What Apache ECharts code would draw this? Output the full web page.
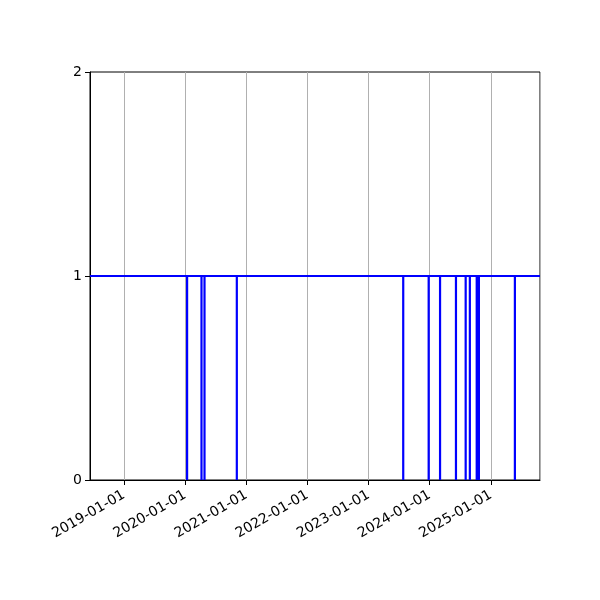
<!DOCTYPE html>
<html>
<head>
<meta charset="utf-8">
<script src="https://cdn.jsdelivr.net/npm/echarts@6/dist/echarts.min.js"></script>
<style>html,body{margin:0;padding:0;background:#fff;}#c{width:600px;height:600px;}</style>
</head>
<body>
<div id="c"></div>
<script>
const rangeStart = '2018-06-12';
const rangeEnd = '2025-10-21';
const normalValue = 1;
const dropValue = 0;
const dropDates = [
  '2020-01-13', '2020-04-08', '2020-04-26', '2020-11-05',
  '2023-07-27', '2023-12-26', '2024-03-03', '2024-06-06',
  '2024-08-03', '2024-08-28', '2024-10-08', '2024-10-21',
  '2025-05-24'
];
const yTicks = [0, 1, 2];

const series = [[rangeStart, normalValue]];
dropDates.forEach(d => {
  series.push([d, normalValue]);
  series.push([d, dropValue]);
  series.push([d, normalValue]);
});
series.push([rangeEnd, normalValue]);

const YEAR = 365 * 24 * 3600 * 1000;
const chart = echarts.init(document.getElementById('c'));
chart.setOption({
  animation: false,
  grid: { left: 90, right: 60, top: 72, bottom: 120, show: true, borderColor: '#000', borderWidth: 1, backgroundColor: 'transparent' },
  xAxis: {
    type: 'time',
    min: echarts.time.parse(rangeStart).getTime(),
    max: echarts.time.parse(rangeEnd).getTime(),
    minInterval: YEAR,
    maxInterval: YEAR + 24 * 3600 * 1000,
    axisLine: { show: true, lineStyle: { color: '#000', width: 1 } },
    axisTick: { show: true, length: 5, lineStyle: { color: '#000', width: 1 } },
    axisLabel: { rotate: 30, color: '#000', fontFamily: 'DejaVu Sans', fontSize: 14, formatter: '{yyyy}-{MM}-{dd}', margin: 14, showMinLabel: false, showMaxLabel: false },
    splitLine: { show: true, lineStyle: { color: '#b0b0b0', width: 1 } }
  },
  yAxis: {
    type: 'value',
    min: yTicks[0],
    max: yTicks[yTicks.length - 1],
    interval: 1,
    axisLine: { show: true, lineStyle: { color: '#000', width: 1 } },
    axisTick: { show: true, length: 5, lineStyle: { color: '#000', width: 1 } },
    axisLabel: { color: '#000', fontFamily: 'DejaVu Sans', fontSize: 14, margin: 8 },
    splitLine: { show: false }
  },
  series: [{
    type: 'line',
    data: series,
    showSymbol: false,
    symbol: 'none',
    lineStyle: { color: '#0000ff', width: 2.2 },
    z: 5
  }]
});
</script>
</body>
</html>
